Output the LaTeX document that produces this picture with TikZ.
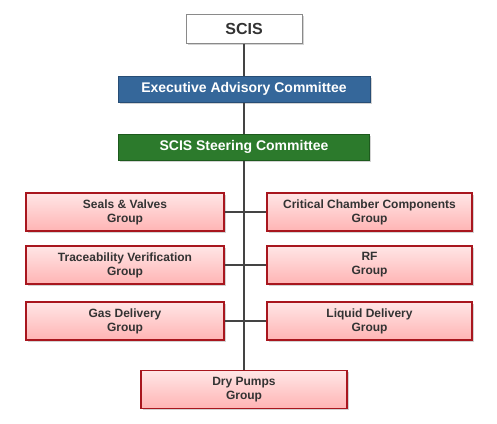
\documentclass[tikz,border=0pt]{standalone}
\usepackage{fontspec}
\setmainfont{Liberation Sans}
\usepackage{tikz}
\usetikzlibrary{positioning, shadows}
\definecolor{cline}{HTML}{444444}
\definecolor{ctext}{HTML}{333333}
\definecolor{cgrayedge}{HTML}{8A8A8A}
\definecolor{cblue}{HTML}{35679A}
\definecolor{cblueedge}{HTML}{274D75}
\definecolor{cgreen}{HTML}{2C7A2C}
\definecolor{cgreenedge}{HTML}{1D5A1D}
\definecolor{cpinktop}{HTML}{FFE6E6}
\definecolor{cpinkbot}{HTML}{FFB4B4}
\definecolor{credge}{HTML}{A8161E}
\tikzset{
  boxbase/.style={inner sep=0pt, align=center, font=\bfseries,
                  drop shadow={shadow xshift=1.5pt, shadow yshift=-1.5pt, opacity=.35}},
  topbox/.style={boxbase, draw=cgrayedge, line width=1pt, fill=white, text=ctext,
                 minimum width=116pt, minimum height=29pt, font=\fontsize{16}{18}\selectfont\bfseries},
  bluebox/.style={boxbase, draw=cblueedge, line width=1pt, fill=cblue, text=white,
                  minimum width=252pt, minimum height=26pt, font=\fontsize{14}{16}\selectfont\bfseries},
  greenbox/.style={boxbase, draw=cgreenedge, line width=1pt, fill=cgreen, text=white,
                   minimum width=251pt, minimum height=26pt, font=\fontsize{14}{16}\selectfont\bfseries},
  grpbox/.style={boxbase, draw=credge, line width=1.2pt, top color=cpinktop, bottom color=cpinkbot,
                 text=ctext, minimum height=38pt, font=\fontsize{12}{14}\selectfont\bfseries},
  link/.style={draw=cline, line width=1.5pt},
}

\begin{document}
\begin{tikzpicture}[x=1pt, y=-1pt]
  \useasboundingbox (0,0) rectangle (497,423);
  % top of the chart
  \node[topbox]   (scis)  at (244,28.5) {SCIS};
  \node[bluebox]  (exec)  at (244,89)   {Executive Advisory Committee};
  \node[greenbox] (steer) at (244,147)  {SCIS Steering Committee};
  % working groups
  \node[grpbox, minimum width=198pt] (seals) at (125,212)   {Seals \& Valves\\Group};
  \node[grpbox, minimum width=205pt] (ccc)   at (369.5,212) {Critical Chamber Components\\Group};
  \node[grpbox, minimum width=198pt] (trace) at (125,265)   {Traceability Verification\\Group};
  \node[grpbox, minimum width=205pt] (rf)    at (369.5,265) {RF\\Group};
  \node[grpbox, minimum width=198pt] (gas)   at (125,321)   {Gas Delivery\\Group};
  \node[grpbox, minimum width=205pt] (liq)   at (369.5,321) {Liquid Delivery\\Group};
  \node[grpbox, minimum width=206pt] (dry)   at (244,389.5) {Dry Pumps\\Group};
  % connectors
  \draw[link] (scis) -- (exec);
  \draw[link] (exec) -- (steer);
  \draw[link] (steer) -- (dry);
  \draw[link] (seals.east) -- (ccc.west);
  \draw[link] (trace.east) -- (rf.west);
  \draw[link] (gas.east) -- (liq.west);
\end{tikzpicture}
\end{document}
